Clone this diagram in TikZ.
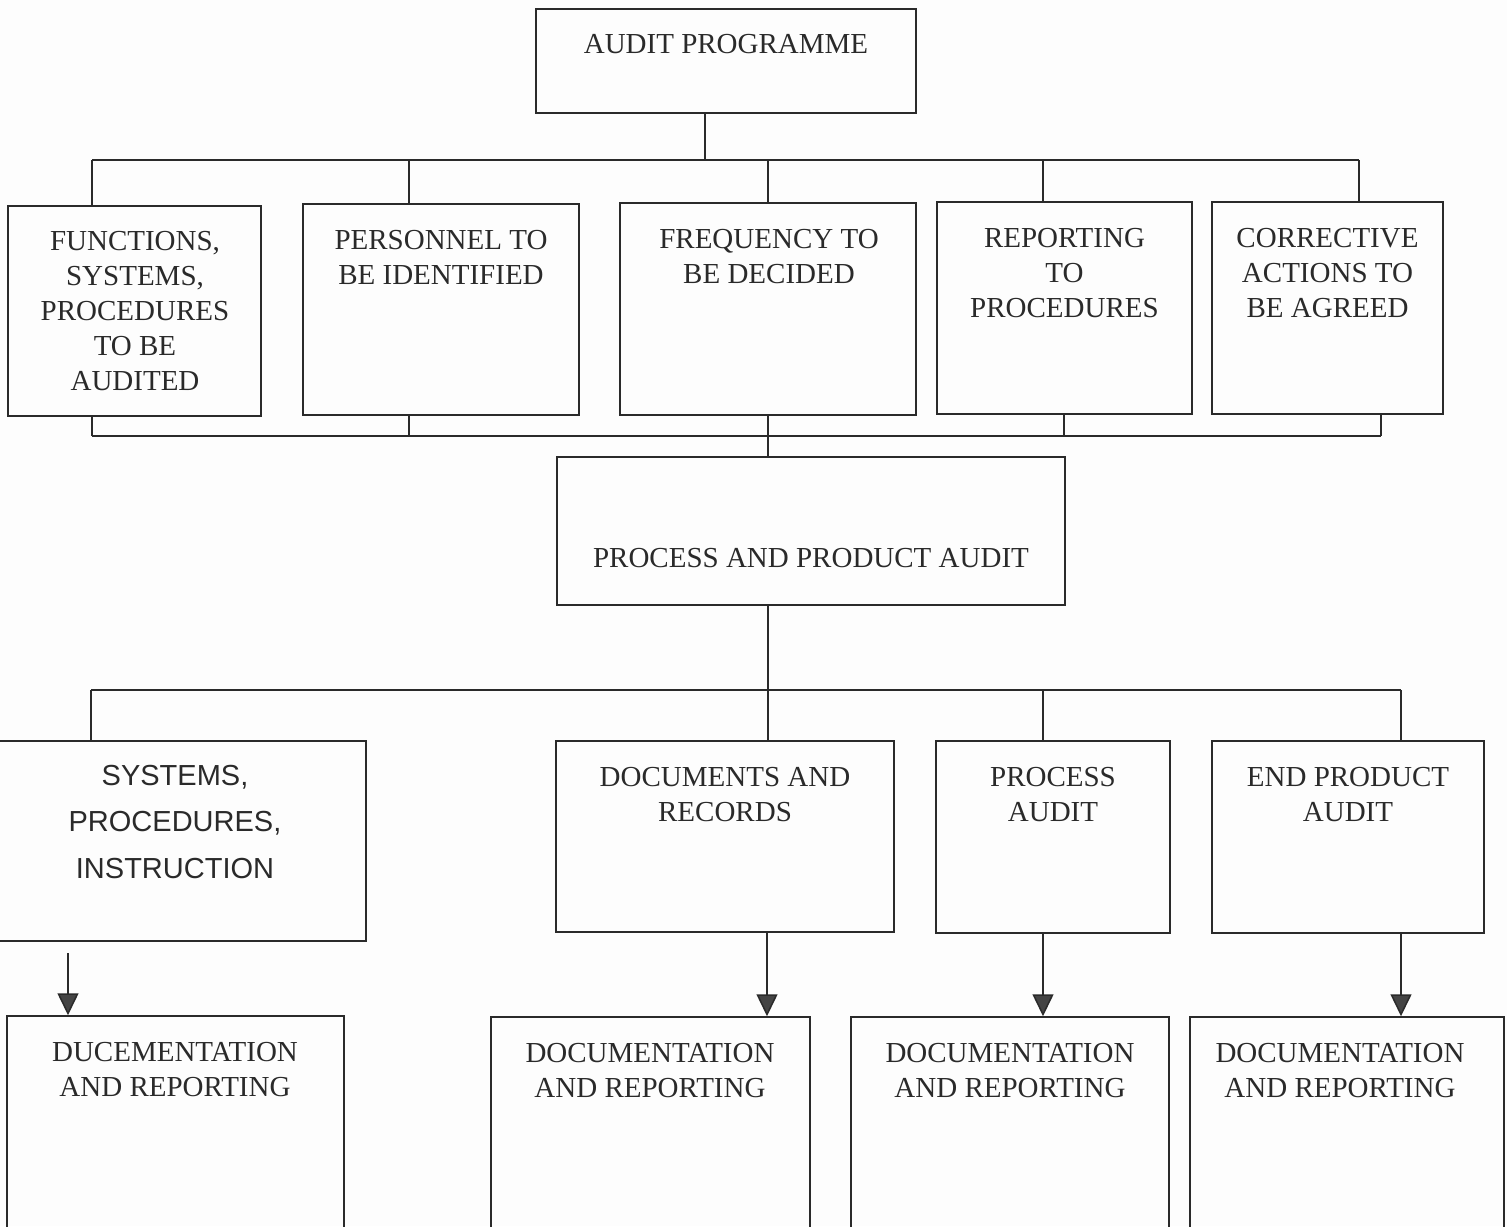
\documentclass[tikz,border=0pt]{standalone}
\usepackage{fontspec}
\setmainfont{Liberation Serif}
\newfontfamily\arialf{Liberation Sans}
\usetikzlibrary{arrows.meta}
\definecolor{ink}{HTML}{2A2A2A}
\definecolor{tipc}{HTML}{444444}
\definecolor{bgc}{HTML}{FDFDFD}
\tikzset{
  x=1pt, y=-1pt,
  box/.style={draw=ink, line width=1.5pt, rectangle, inner sep=0pt},
  txt/.style={inner sep=0pt, anchor=north, align=center, text=ink,
              font=\fontsize{29}{35}\selectfont},
  stxt/.style={inner sep=0pt, anchor=north, align=center, text=ink,
              font=\arialf\fontsize{29}{46.5}\selectfont},
  conn/.style={draw=ink, line width=1.5pt},
  arr/.style={conn, -{Triangle[width=21pt,length=22pt,fill=tipc]}},
}
\begin{document}
\begin{tikzpicture}
\useasboundingbox (0,0) rectangle (1507,1226);
\fill[bgc] (0,0) rectangle (1507,1226);
\clip (0,0) rectangle (1507,1226);

% boxes
\node[box, minimum width=380pt, minimum height=104pt] (ap) at (726,61) {};
\node[box, minimum width=253pt, minimum height=210pt] (f1) at (134.5,311) {};
\node[box, minimum width=276pt, minimum height=211pt] (f2) at (441,309.5) {};
\node[box, minimum width=296pt, minimum height=212pt] (f3) at (768,309) {};
\node[box, minimum width=255pt, minimum height=212pt] (f4) at (1064.5,308) {};
\node[box, minimum width=231pt, minimum height=212pt] (f5) at (1327.5,308) {};
\node[box, minimum width=508pt, minimum height=148pt] (ppa) at (811,531) {};
\node[box, minimum width=376pt, minimum height=200pt] (s1) at (178,841) {};
\node[box, minimum width=338pt, minimum height=191pt] (s2) at (725,836.5) {};
\node[box, minimum width=234pt, minimum height=192pt] (s3) at (1053,837) {};
\node[box, minimum width=272pt, minimum height=192pt] (s4) at (1348,837) {};
\node[box, minimum width=337pt, minimum height=244pt] (d1) at (175.5,1138) {};
\node[box, minimum width=319pt, minimum height=243pt] (d2) at (650.5,1138.5) {};
\node[box, minimum width=318pt, minimum height=243pt] (d3) at (1010,1138.5) {};
\node[box, minimum width=314pt, minimum height=243pt] (d4) at (1347,1138.5) {};

% texts
\node[txt] (tap) at (726,34) {AUDIT PROGRAMME};
\node[txt] (tf1) at (135,231) {FUNCTIONS,\\SYSTEMS,\\PROCEDURES\\TO BE\\AUDITED};
\node[txt] (tf2) at (441,230) {PERSONNEL TO\\BE IDENTIFIED};
\node[txt] (tf3) at (769,229) {FREQUENCY TO\\BE DECIDED};
\node[txt] (tf4) at (1064.5,228) {REPORTING\\TO\\PROCEDURES};
\node[txt] (tf5) at (1327.5,228) {CORRECTIVE\\ACTIONS TO\\BE AGREED};
\node[txt] (tppa) at (811,548) {PROCESS AND PRODUCT AUDIT};
\node[stxt] (ts1) at (175,765) {SYSTEMS,\\PROCEDURES,\\INSTRUCTION};
\node[txt] (ts2) at (725,767) {DOCUMENTS AND\\RECORDS};
\node[txt] (ts3) at (1053,767) {PROCESS\\AUDIT};
\node[txt] (ts4) at (1348,767) {END PRODUCT\\AUDIT};
\node[txt] (td1) at (175,1042) {DUCEMENTATION\\AND REPORTING};
\node[txt] (td2) at (650,1043) {DOCUMENTATION\\AND REPORTING};
\node[txt] (td3) at (1010,1043) {DOCUMENTATION\\AND REPORTING};
\node[txt] (td4) at (1340,1043) {DOCUMENTATION\\AND REPORTING};

% top bus
\coordinate (ta) at (705,160);
\coordinate (tb1) at (92,160);
\coordinate (tb2) at (409,160);
\coordinate (tb3) at (768,160);
\coordinate (tb4) at (1043,160);
\coordinate (tb5) at (1359,160);
\draw[conn] (ta |- ap.south) -- (ta);
\draw[conn] (tb1) -- (tb5);
\draw[conn] (tb1) -- (tb1 |- f1.north);
\draw[conn] (tb2) -- (tb2 |- f2.north);
\draw[conn] (tb3) -- (tb3 |- f3.north);
\draw[conn] (tb4) -- (tb4 |- f4.north);
\draw[conn] (tb5) -- (tb5 |- f5.north);

% bottom bus of first row
\coordinate (bb1) at (92,436);
\coordinate (bb2) at (409,436);
\coordinate (bb3) at (768,436);
\coordinate (bb4) at (1064,436);
\coordinate (bb5) at (1381,436);
\draw[conn] (bb1) -- (bb5);
\draw[conn] (bb1) -- (bb1 |- f1.south);
\draw[conn] (bb2) -- (bb2 |- f2.south);
\draw[conn] (bb3 |- f3.south) -- (bb3 |- ppa.north);
\draw[conn] (bb4) -- (bb4 |- f4.south);
\draw[conn] (bb5) -- (bb5 |- f5.south);

% lower bus
\coordinate (lb1) at (91,690);
\coordinate (lb2) at (768,690);
\coordinate (lb3) at (1043,690);
\coordinate (lb4) at (1401,690);
\draw[conn] (lb2 |- ppa.south) -- (lb2);
\draw[conn] (lb1) -- (lb4);
\draw[conn] (lb1) -- (lb1 |- s1.north);
\draw[conn] (lb2) -- (lb2 |- s2.north);
\draw[conn] (lb3) -- (lb3 |- s3.north);
\draw[conn] (lb4) -- (lb4 |- s4.north);

% arrows
\coordinate (a1) at (68,953);
\coordinate (a2) at (767,0);
\coordinate (a3) at (1043,0);
\coordinate (a4) at (1401,0);
\draw[arr] (a1) -- (a1 |- d1.north);
\draw[arr] (a2 |- s2.south) -- (a2 |- d2.north);
\draw[arr] (a3 |- s3.south) -- (a3 |- d3.north);
\draw[arr] (a4 |- s4.south) -- (a4 |- d4.north);
\end{tikzpicture}
\end{document}
